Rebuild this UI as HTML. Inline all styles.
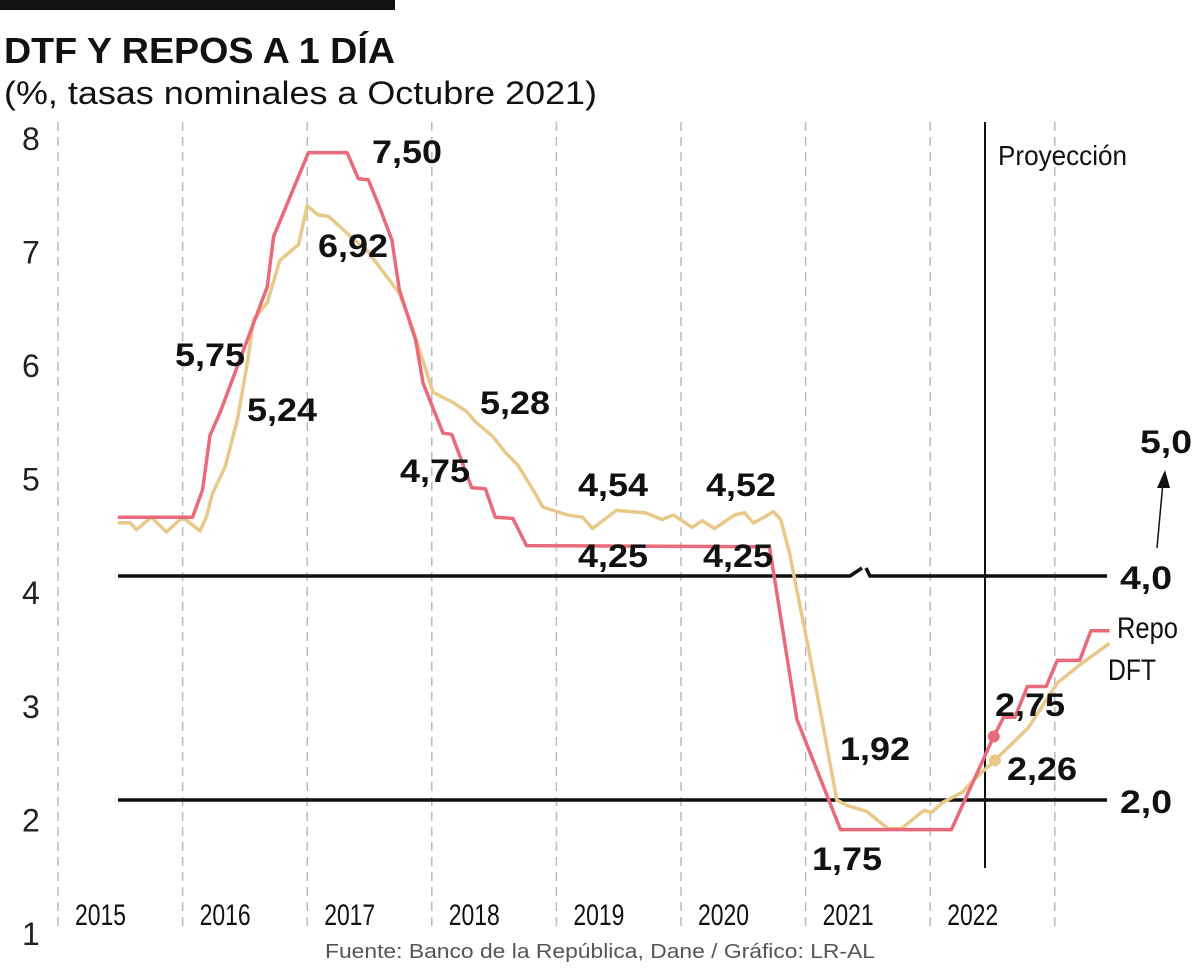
<!DOCTYPE html>
<html><head><meta charset="utf-8"><style>
body{margin:0;background:#fff;width:1200px;height:965px;overflow:hidden;font-family:"Liberation Sans",sans-serif}
svg text{font-family:"Liberation Sans Narrow","Liberation Sans",sans-serif}
.b{font-weight:bold;font-size:32px;fill:#111;font-family:"Liberation Sans",sans-serif}
</style></head><body>
<svg id="chart" width="1200" height="965">
<rect x="0" y="0" width="395" height="10" fill="#111"/>
<text x="4" y="63" font-size="36" font-weight="bold" fill="#111" textLength="391" lengthAdjust="spacingAndGlyphs" style="font-family:'Liberation Sans',sans-serif">DTF Y REPOS A 1 DÍA</text>
<text x="4" y="104" font-size="32" fill="#111" textLength="593" lengthAdjust="spacingAndGlyphs" style="font-family:'Liberation Sans',sans-serif">(%, tasas nominales a Octubre 2021)</text>
<g id="grid"></g><g id="ylab"></g><g id="xlab"></g>
<g>
<path d="M118 576 H850 L862 568" stroke="#111" stroke-width="3.5" fill="none"/>
<path d="M866 568 L870 576 H1107" stroke="#111" stroke-width="3.5" fill="none"/>
<line x1="118" y1="800" x2="1107" y2="800" stroke="#111" stroke-width="3.5"/>
<line x1="985" y1="122" x2="985" y2="868" stroke="#111" stroke-width="2"/>
</g>
<g id="series"></g>
<text x="998" y="165" font-size="28" fill="#111" textLength="129" lengthAdjust="spacingAndGlyphs">Proyección</text>
<line x1="1157" y1="548" x2="1163" y2="482" stroke="#111" stroke-width="1.5"/>
<polygon points="1165,470 1157,488 1170,488" fill="#111"/>
<text class="b" x="1140" y="453" textLength="52" lengthAdjust="spacingAndGlyphs">5,0</text>
<text class="b" x="1120" y="589" textLength="52" lengthAdjust="spacingAndGlyphs">4,0</text>
<text class="b" x="1120" y="813" textLength="52" lengthAdjust="spacingAndGlyphs">2,0</text>
<text x="1117" y="638" font-size="30" fill="#111" textLength="61" lengthAdjust="spacingAndGlyphs">Repo</text>
<text x="1108" y="680" font-size="30" fill="#111" textLength="48" lengthAdjust="spacingAndGlyphs">DFT</text>
<g id="vals"></g>
<text x="325" y="958" font-size="20" fill="#555" textLength="550" lengthAdjust="spacingAndGlyphs" style="font-family:'Liberation Sans',sans-serif">Fuente: Banco de la República, Dane / Gráfico: LR-AL</text>
</svg>
<script>
const yTicks=[1,2,3,4,5,6,7,8];
const xYears=[2015,2016,2017,2018,2019,2020,2021,2022];
const repoT=[2015.48,2016.08,2016.16,2016.22,2016.30,2016.68,2016.73,2017.01,2017.32,2017.41,2017.49,2017.58,2017.68,2017.74,2017.87,2017.93,2018.09,2018.16,2018.32,2018.43,2018.51,2018.65,2018.76,2020.71,2020.93,2021.28,2022.17,2022.51,2022.59,2022.68,2022.78,2022.93,2023.02,2023.20,2023.29,2023.44];
const repoV=[4.66,4.66,4.90,5.38,5.58,6.69,7.13,7.87,7.87,7.64,7.63,7.39,7.10,6.66,6.22,5.84,5.40,5.39,4.92,4.91,4.66,4.65,4.41,4.40,2.88,1.91,1.91,2.73,2.90,2.90,3.17,3.17,3.40,3.40,3.66,3.66];
const dtfT=[2015.48,2015.58,2015.63,2015.75,2015.87,2016.00,2016.14,2016.19,2016.24,2016.34,2016.44,2016.52,2016.57,2016.68,2016.78,2016.93,2017.00,2017.09,2017.17,2017.34,2017.48,2017.74,2017.85,2018.01,2018.17,2018.28,2018.35,2018.49,2018.59,2018.69,2018.83,2018.89,2019.09,2019.21,2019.29,2019.48,2019.58,2019.71,2019.85,2019.94,2020.09,2020.17,2020.27,2020.43,2020.51,2020.58,2020.67,2020.74,2020.80,2020.87,2021.02,2021.12,2021.25,2021.34,2021.49,2021.66,2021.77,2021.95,2022.01,2022.10,2022.26,2022.36,2022.52,2022.79,2023.02,2023.20,2023.44];
const dtfV=[4.61,4.61,4.55,4.66,4.53,4.66,4.54,4.66,4.87,5.10,5.52,6.02,6.40,6.55,6.92,7.06,7.40,7.32,7.31,7.14,7.01,6.63,6.31,5.76,5.67,5.59,5.50,5.37,5.23,5.12,4.87,4.75,4.68,4.66,4.56,4.72,4.71,4.70,4.64,4.68,4.57,4.63,4.56,4.68,4.70,4.61,4.66,4.71,4.64,4.35,3.52,2.94,2.17,2.12,2.07,1.92,1.92,2.08,2.06,2.15,2.24,2.36,2.52,2.81,3.20,3.36,3.55];
const valLabels=[["7,50",372,163],["6,92",318,257],["5,75",175,366],["5,24",247,421],["5,28",480,414],["4,75",400,482],["4,54",578,496],["4,52",706,496],["4,25",578,567],["4,25",703,567],["1,92",840,760],["1,75",812,870],["2,75",995,716],["2,26",1007,780]];
const NS="http://www.w3.org/2000/svg";
const X=t=>58+(t-2015)*124.6;
const Y=v=>933-(v-1)*113.6;
function mk(tag,attrs,parent,text){const e=document.createElementNS(NS,tag);for(const k in attrs)e.setAttribute(k,attrs[k]);if(text!=null)e.textContent=text;parent.appendChild(e);return e;}
const grid=document.getElementById('grid'),ylab=document.getElementById('ylab'),xlab=document.getElementById('xlab'),series=document.getElementById('series'),vals=document.getElementById('vals');
for(let i=0;i<=xYears.length;i++){const x=X(2015+i);const l=mk('line',{x1:x,y1:122,x2:x,y2:932,stroke:'#bbb','stroke-width':1.5,'stroke-dasharray':'9,6'},grid);

}
xYears.forEach(yr=>{const t=mk('text',{x:X(yr)+17,y:925,'font-size':30,fill:'#111',textLength:51,lengthAdjust:'spacingAndGlyphs'},xlab,String(yr));

});
yTicks.forEach(v=>{const t=mk('text',{x:22,y:Y(v)+12,'font-size':32,fill:'#222',style:"font-family:'Liberation Sans',sans-serif"},ylab,String(v));

});
function line(T,V,color,name){const d=T.map((t,i)=>(i?'L':'M')+X(t).toFixed(1)+' '+Y(V[i]).toFixed(1)).join(' ');
const p=mk('path',{d:d,stroke:color,'stroke-width':3.5,fill:'none','stroke-linejoin':'round'},series);

}
line(dtfT,dtfV,'#e8c98a','dtf-line');
line(repoT,repoV,'#e96b7b','repo-line');
const d1=mk('circle',{cx:X(2022.51),cy:Y(2.73),r:6,fill:'#e96b7b'},series);


const d2=mk('circle',{cx:X(2022.52),cy:Y(2.52),r:6,fill:'#e8c98a'},series);


valLabels.forEach(a=>{const t=mk('text',{x:a[1],y:a[2],class:'b',textLength:70,lengthAdjust:'spacingAndGlyphs'},vals,a[0]);

});
</script>
</body></html>
